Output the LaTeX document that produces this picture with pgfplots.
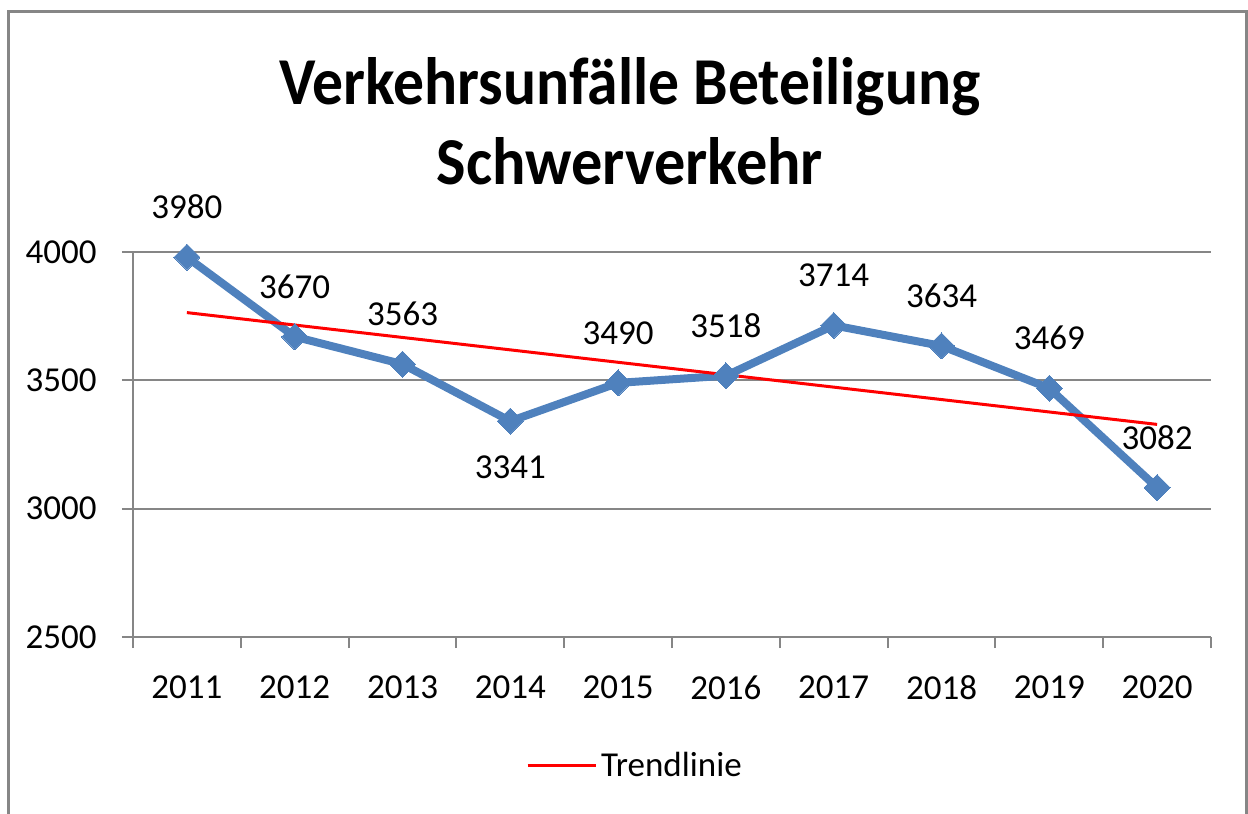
\documentclass[border=0pt]{standalone}
\usepackage{fontspec}
\setmainfont{Carlito}
\usepackage{pgfplots}
\usepackage{pgfplotstable}
\pgfplotsset{compat=1.18}
\definecolor{xlblue}{HTML}{4F81BD}
\definecolor{xlgray}{HTML}{868686}

% x = position (0 = 2011), y = count, s = label shift in pt
\pgfplotstableread{
x y s
0 3980 25
1 3670 25
2 3563 25
3 3341 -23
4 3490 25
5 3518 25
6 3714 25
7 3634 25
8 3469 25
9 3082 25
}\unfaelle

\begin{document}
\begin{tikzpicture}
\path[use as bounding box] (0,0) rectangle (624pt,407pt);
\draw[xlgray, line width=1.5pt] (4pt,-10pt) -- (4pt,401pt) -- (623.2pt,401pt) -- (623.2pt,-10pt);

\node[anchor=base, font=\fontsize{33.5}{40}\selectfont\bfseries] at (315pt,354.5pt) {\scalebox{0.92}[1]{Verkehrsunfälle Beteiligung}};
\node[anchor=base, font=\fontsize{33.5}{40}\selectfont\bfseries] at (315pt,314.5pt) {\scalebox{0.93}[1]{Schwerverkehr}};

\begin{axis}[
  at={(66.5pt,88.5pt)}, anchor=south west,
  scale only axis, width=539pt, height=192.5pt,
  xmin=-0.5, xmax=9.5, ymin=2500, ymax=4000,
  axis x line*=bottom, axis y line*=left,
  axis line style={xlgray, line width=1pt},
  ytick={2500,3000,3500,4000},
  xtick={-0.5,0.5,...,9.5}, xticklabels={},
  extra x ticks={0,...,9},
  extra x tick labels={2011,2012,2013,2014,2015,2016,2017,2018,2019,2020},
  extra x tick style={major tick length=0pt, grid=none},
  tick align=outside, major tick length=5.5pt,
  tick style={xlgray, line width=1pt},
  ymajorgrids, grid style={xlgray, line width=1pt},
  /pgf/number format/assume math mode=true,
  /pgf/number format/1000 sep={},
  tick label style={font=\fontsize{17.5}{20}\selectfont, black},
  yticklabel style={anchor=east, inner sep=0pt, xshift=-12.5pt},
  xticklabel style={anchor=north, inner sep=0pt, yshift=-19pt},
  legend style={at={(0.4665,-0.335)}, anchor=center, draw=none,
    font=\fontsize{17.5}{20}\selectfont, inner sep=0pt},
  legend image code/.code={\draw[#1] (0pt,0pt) -- (34pt,0pt);},
  clip=false,
]
\addplot[xlblue, line width=4pt, mark=square*, mark size=4.6pt,
  mark options={rotate=45, fill=xlblue, line width=0pt},
  visualization depends on={\thisrow{s} \as \lshift},
  nodes near coords,
  every node near coord/.append style={black, anchor=center, yshift=\lshift pt,
    font=\fontsize{17.5}{20}\selectfont},
  forget plot] table[x=x, y=y] {\unfaelle};
\addplot[red, line width=1.5pt] coordinates {(0,3763.9) (9,3328.3)};
\addlegendentry{Trendlinie}
\end{axis}
\end{tikzpicture}
\end{document}
